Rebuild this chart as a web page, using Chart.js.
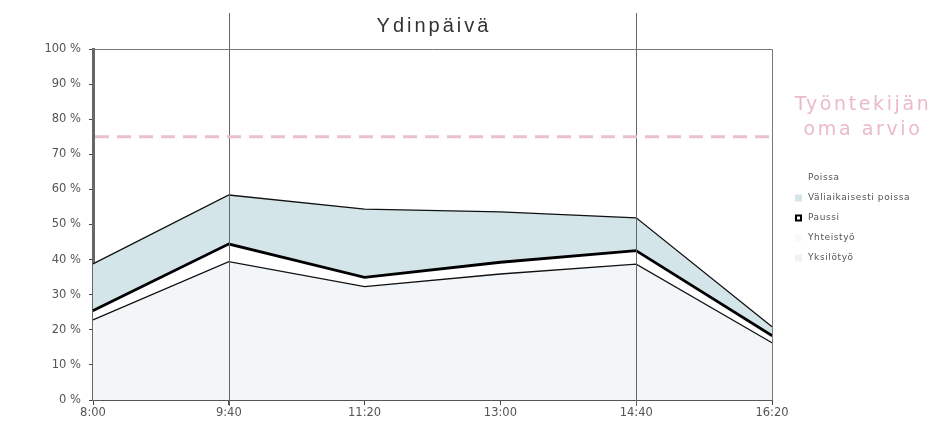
<!DOCTYPE html>
<html lang="fi">
<head>
    <meta charset="UTF-8">
    <title>Ydinpäivä</title>
    <script src="https://cdn.jsdelivr.net/npm/chart.js"></script>
    <style>
        html, body { margin: 0; padding: 0; background: #fff; }
        .graafi { position: relative; width: 936px; height: 431px; }
    </style>
</head>
<body>
    <div class="graafi">
        <canvas id="graafiYdinpaiva" width="936" height="431"></canvas>
    </div>

<script>
    // aikapisteet
    const ajat = ['8:00', '9:40', '11:20', '13:00', '14:40', '16:20'];

    // pinotut osuudet (%) alhaalta ylös
    const yksilotyo = [22.8, 39.4, 32.3, 35.9, 38.7, 16.3];
    const yhteistyo = [2.5, 4.9, 2.5, 3.2, 3.7, 1.9];
    const paussi = [0.3, 0.3, 0.3, 0.3, 0.3, 0.3];
    const valiaikaisestiPoissa = [13.2, 13.8, 19.3, 14.2, 9.2, 2.4];
    const poissa = [0, 0, 0, 0, 0, 0];

    const yTicks = [0, 10, 20, 30, 40, 50, 60, 70, 80, 90, 100];
    const omaArvio = 75;
    const ydinpaivaAlku = 1; // 9:40
    const ydinpaivaLoppu = 4; // 14:40

    const selite = [
        { nimi: 'Poissa', tayte: '#ffffff', reuna: null },
        { nimi: 'Väliaikaisesti poissa', tayte: '#d3e4ea', reuna: null },
        { nimi: 'Paussi', tayte: '#ffffff', reuna: '#000000' },
        { nimi: 'Yhteistyö', tayte: '#f9f9f9', reuna: null },
        { nimi: 'Yksilötyö', tayte: '#eef2f5', reuna: null }
    ];

    const lisat = {
        id: 'lisat',
        afterDatasetsDraw(chart) {
            const ctx = chart.ctx;
            const a = chart.chartArea;
            const x = chart.scales.x;
            const y = chart.scales.y;
            ctx.save();

            // ydinpäivän pystyviivat
            ctx.strokeStyle = '#666';
            ctx.lineWidth = 1;
            [ydinpaivaAlku, ydinpaivaLoppu].forEach(i => {
                const px = Math.round(x.getPixelForValue(i)) + 0.5;
                ctx.beginPath();
                ctx.moveTo(px, 13);
                ctx.lineTo(px, a.bottom + 6);
                ctx.stroke();
            });

            // yläreuna ja oikea reuna
            ctx.strokeStyle = '#777';
            ctx.beginPath();
            ctx.moveTo(a.left, Math.round(a.top) + 0.5);
            ctx.lineTo(Math.round(a.right) + 0.5, Math.round(a.top) + 0.5);
            ctx.lineTo(Math.round(a.right) + 0.5, a.bottom);
            ctx.stroke();

            // työntekijän oma arvio
            const py = y.getPixelForValue(omaArvio);
            ctx.strokeStyle = '#ebc0cd';
            ctx.lineWidth = 3;
            ctx.setLineDash([14, 8]);
            ctx.beginPath();
            ctx.moveTo(a.left + 2, py);
            ctx.lineTo(a.right, py);
            ctx.stroke();
            ctx.setLineDash([]);

            ctx.fillStyle = '#eab9ca';
            ctx.font = '19px "DejaVu Sans"';
            ctx.textAlign = 'center';
            ctx.textBaseline = 'middle';
            ctx.letterSpacing = '2.6px';
            ctx.fillText('Työntekijän', 863, 105);
            ctx.fillText('oma arvio', 863, 130);

            // otsikko
            const keski = (x.getPixelForValue(ydinpaivaAlku) + x.getPixelForValue(ydinpaivaLoppu)) / 2;
            ctx.fillStyle = '#333';
            ctx.font = '20px "Liberation Sans"';
            ctx.letterSpacing = '3px';
            ctx.fillText('Ydinpäivä', keski + 1.5, 26);

            // selite
            ctx.font = '9px "DejaVu Sans"';
            ctx.letterSpacing = '0.6px';
            ctx.textAlign = 'left';
            selite.forEach((s, i) => {
                const sy = 178 + i * 20;
                ctx.fillStyle = s.tayte;
                ctx.fillRect(795, sy - 3.5, 7, 7);
                if (s.reuna) {
                    ctx.strokeStyle = s.reuna;
                    ctx.lineWidth = 2;
                    ctx.strokeRect(796, sy - 2.5, 5, 5);
                }
                ctx.fillStyle = '#555';
                ctx.fillText(s.nimi, 808, sy);
            });
            ctx.letterSpacing = '0px';
            ctx.restore();
        }
    };

    function sarja(nimi, data, tayte, reuna, leveys, fill) {
        return {
            label: nimi,
            data: data,
            backgroundColor: tayte,
            borderColor: reuna,
            borderWidth: leveys,
            fill: fill,
            pointRadius: 0,
            tension: 0
        };
    }

    new Chart(document.getElementById('graafiYdinpaiva'), {
        type: 'line',
        data: {
            labels: ajat,
            datasets: [
                sarja('Yksilötyö', yksilotyo, '#f3f6f8', '#111', 1.3, 'origin'),
                sarja('Yhteistyö', yhteistyo, '#ffffff', '#000', 1.8, '-1'),
                sarja('Paussi', paussi, '#ffffff', '#000', 1.8, '-1'),
                sarja('Väliaikaisesti poissa', valiaikaisestiPoissa, '#d4e5ea', '#111', 1.3, '-1'),
                sarja('Poissa', poissa, 'rgba(255,255,255,0)', 'rgba(0,0,0,0)', 0, false)
            ]
        },
        options: {
            responsive: false,
            animation: false,
            layout: { padding: { top: 49, right: 164, left: 0, bottom: 0 } },
            plugins: {
                legend: { display: false },
                tooltip: { enabled: false }
            },
            scales: {
                x: {
                    offset: false,
                    grid: { drawOnChartArea: false, drawTicks: true, tickLength: 5, color: '#444' },
                    border: { color: '#555', width: 2 },
                    ticks: { color: '#555', font: { family: 'DejaVu Sans', size: 11.5 }, padding: 1, maxRotation: 0 },
                    afterFit: s => { s.height = 31; }
                },
                y: {
                    stacked: true,
                    min: 0,
                    max: 100,
                    afterBuildTicks: s => { s.ticks = yTicks.map(v => ({ value: v })); },
                    grid: { drawOnChartArea: false, drawTicks: true, tickLength: 4, color: '#444' },
                    border: { color: '#666', width: 3 },
                    ticks: { color: '#555', font: { family: 'DejaVu Sans', size: 11.5 }, padding: 8, callback: v => v + ' %' },
                    afterFit: s => { s.width = 93; }
                }
            }
        },
        plugins: [lisat]
    });
</script>
</body>
</html>
